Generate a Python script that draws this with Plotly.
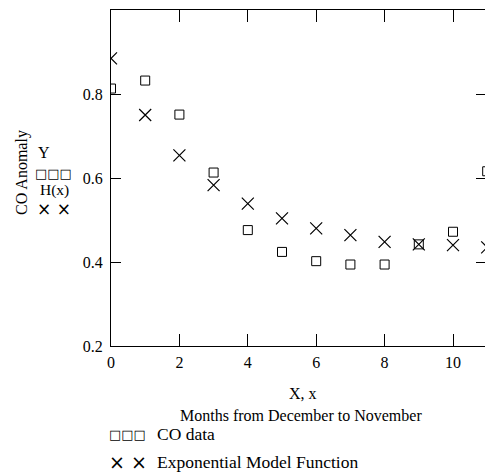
import plotly.graph_objects as go

# ---- data ----
months = [0, 1, 2, 3, 4, 5, 6, 7, 8, 9, 10, 11]
co_data = [0.813, 0.832, 0.751, 0.613, 0.476, 0.424, 0.402, 0.394, 0.394, 0.442, 0.472, 0.616]
model_fn = [0.885, 0.750, 0.654, 0.583, 0.539, 0.504, 0.480, 0.464, 0.448, 0.442, 0.440, 0.435]
x_ticks = [0, 2, 4, 6, 8, 10]
y_ticks = [0.2, 0.4, 0.6, 0.8]

W, H = 485, 475
# plot area in page pixels
L, R, T, B = 111, 485, 10, 346
SERIF = "Liberation Serif, Times New Roman, serif"


def pp(px, py):
    return (px - L) / (R - L), (B - py) / (B - T)


fig = go.Figure()
fig.add_trace(go.Scatter(x=months, y=co_data, mode="markers", name="CO data",
                         marker=dict(symbol="square-open", size=9, color="black",
                                     line=dict(width=1, color="black")),
                         cliponaxis=True, showlegend=False))
fig.add_trace(go.Scatter(x=months, y=model_fn, mode="markers", name="Exponential Model Function",
                         marker=dict(symbol="x-thin-open", size=12, color="black",
                                     line=dict(width=1.2, color="black")),
                         cliponaxis=True, showlegend=False))
# dummy trace to instantiate the right-hand tick axis
fig.add_trace(go.Scatter(x=[None], y=[None], yaxis="y2", showlegend=False, hoverinfo="skip"))

axis_common = dict(showgrid=False, zeroline=False, linecolor="black", linewidth=1,
                   tickcolor="black", tickwidth=1,
                   tickfont=dict(family=SERIF, size=16, color="black"))

fig.update_layout(
    width=W, height=H,
    margin=dict(l=L, r=W - R, t=T, b=H - B, pad=0),
    paper_bgcolor="white", plot_bgcolor="white",
    xaxis=dict(range=[0, (R - L) / 34.2], tickvals=x_ticks, ticks="inside", ticklen=12,
               showline=True, mirror="ticks", ticklabelstandoff=2, **axis_common),
    yaxis=dict(range=[0.2, 1.0], tickvals=y_ticks, ticks="inside", ticklen=10,
               showline=True, ticklabelstandoff=4, **axis_common),
    yaxis2=dict(range=[0.2, 1.0], tickvals=y_ticks, ticks="inside", ticklen=9,
                overlaying="y", side="right", showline=False, showticklabels=False,
                showgrid=False, zeroline=False, tickcolor="black", tickwidth=1),
    showlegend=False,
)

ann = []


def text(s, px, py, size=16, anchor="center", angle=0, family=SERIF):
    x, y = pp(px, py)
    ann.append(dict(text=s, x=x, y=y, xref="paper", yref="paper", showarrow=False,
                    xanchor=anchor, yanchor="middle", textangle=angle,
                    font=dict(family=family, size=size, color="black")))


text("CO Anomaly", 22, 173, size=16, angle=-90)
text("Y", 44, 152)
text("□□□", 53.5, 173, size=13, family="DejaVu Sans")
text("H(x)", 54, 190, size=15.5)
text("× ×", 53.5, 209, size=17, family="DejaVu Sans")
text("X, x", 303, 393)
text("Months from December to November", 301, 415, size=16)
text("□□□", 127.5, 434, size=13, family="DejaVu Sans")
text("CO data", 155, 434, size=17.5, anchor="left")
text("× ×", 127.5, 462, size=19, family="DejaVu Sans")
text("Exponential Model Function", 155, 462, size=17.5, anchor="left")

fig.update_layout(annotations=ann)
fig.write_html("out.html",
               config={"displayModeBar": False},
               post_script="document.body.style.margin='0';document.body.style.overflow='hidden';")
